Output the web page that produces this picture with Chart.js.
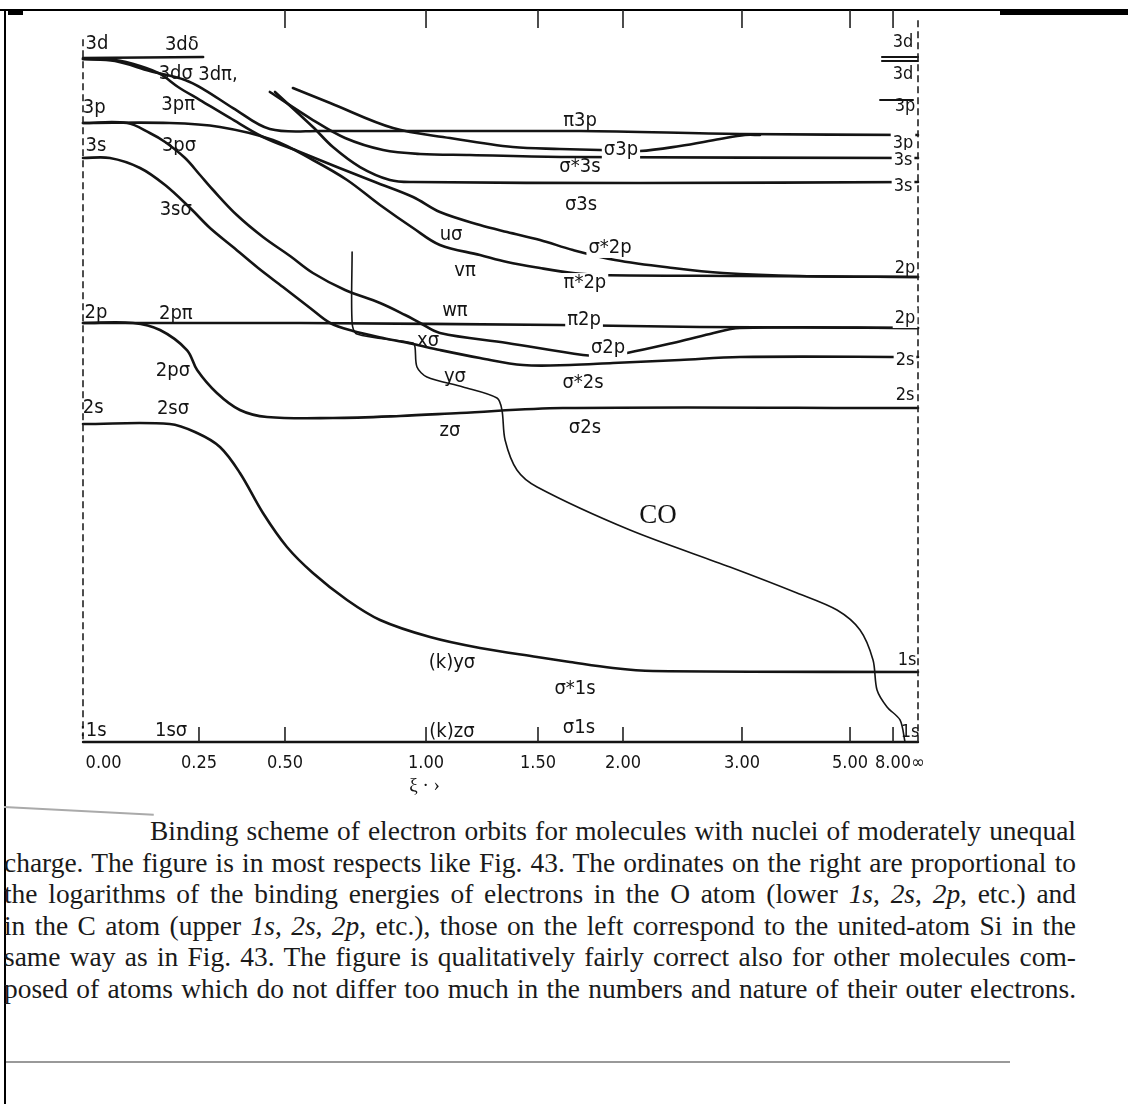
<!DOCTYPE html>
<html><head><meta charset="utf-8">
<script src="https://cdn.jsdelivr.net/npm/chart.js@4/dist/chart.umd.min.js"></script>
<style>
html,body{margin:0;padding:0;background:#fff;}
body{width:1128px;height:1104px;position:relative;overflow:hidden;}
#wrap{position:absolute;left:0;top:0;width:1128px;height:800px;}
.rule{position:absolute;}
#caption{position:absolute;left:4px;top:816px;width:1072px;font-family:"Liberation Serif","DejaVu Serif",serif;font-size:22px;color:#1a1a1a;}
#caption div{height:31.6px;line-height:31.6px;overflow:hidden;text-align:justify;text-align-last:justify;white-space:nowrap;}
</style></head>
<body>
<div class="rule" style="left:0;top:9px;width:1128px;height:2px;background:#000"></div>
<div class="rule" style="left:1000px;top:9px;width:128px;height:6px;background:#000"></div>
<div class="rule" style="left:8px;top:11px;width:15px;height:4px;background:#000"></div>
<div class="rule" style="left:4px;top:9px;width:2px;height:1095px;background:#000"></div>
<div id="wrap"><canvas id="c" width="1128" height="800"></canvas></div>
<div class="rule" style="left:4px;top:806px;width:150px;height:2px;background:#aaa;transform:rotate(3deg);transform-origin:0 0"></div>
<div id="caption">
<div style="padding-left:146px"><span>Binding scheme of electron orbits for molecules with nuclei of moderately unequal</span></div>
<div><span>charge. The figure is in most respects like Fig. 43. The ordinates on the right are proportional to</span></div>
<div><span>the logarithms of the binding energies of electrons in the O atom (lower <i>1s</i>, <i>2s</i>, <i>2p</i>, etc.) and</span></div>
<div><span>in the C atom (upper <i>1s</i>, <i>2s</i>, <i>2p</i>, etc.), those on the left correspond to the united-atom Si in the</span></div>
<div><span>same way as in Fig. 43. The figure is qualitatively fairly correct also for other molecules com-</span></div>
<div><span>posed of atoms which do not differ too much in the numbers and nature of their outer electrons.</span></div>
</div>
<div class="rule" style="left:6px;top:1061px;width:1004px;height:2px;background:#999"></div>
<script>
// ---------- axis ----------
const XI_INF = 1e6; // stands for xi = infinity (separated atoms)
const XI_TICKS = [0, 0.25, 0.5, 1, 1.5, 2, 3, 5, 8, XI_INF];
const XI_TICK_LABELS = ['\u2007\u2007\u2007\u20070.00', '0.25', '0.50', '1.00', '1.50', '2.00', '3.00', '5.00', '8.00', '∞'];

// ---------- correlation curves: [xi, relative level] ----------
const delta3d = [[0, 93.44], [0.262, 93.58]];
const sigma3d_u_sigmaStar2p = [[0, 93.31], [0.069, 93.17], [0.123, 92.35], [0.166, 91.26], [0.205, 89.48], [0.253, 87.70], [0.340, 85.25], [0.436, 82.65], [0.553, 80.60], [0.684, 78.55], [0.819, 76.50], [0.954, 74.45], [1.062, 72.40], [1.241, 70.63], [1.362, 69.67], [1.512, 68.58], [1.706, 67.21], [1.953, 65.85], [2.420, 64.75], [2.840, 64.07], [4.074, 63.66], [XI_INF, 63.52]];
const pi3d_pi3p = [[0, 93.31], [0.069, 93.03], [0.144, 91.67], [0.220, 90.44], [0.267, 89.07], [0.349, 86.61], [0.456, 83.74], [0.624, 83.47], [1.747, 83.47], [2.983, 83.06], [XI_INF, 82.92]];
const pi3p_v_piStar2p = [[0, 84.56], [0.187, 84.56], [0.311, 84.02], [0.465, 82.24], [0.599, 79.51], [0.720, 76.78], [0.837, 73.36], [0.954, 70.22], [1.062, 67.90], [1.241, 66.53], [1.362, 65.57], [1.512, 64.75], [1.706, 64.07], [1.865, 63.80], [2.983, 63.66], [XI_INF, 63.52]];
const sigma3p_x_sigma2p = [[0, 84.56], [0.095, 84.56], [0.144, 83.20], [0.177, 81.97], [0.220, 79.78], [0.253, 77.46], [0.291, 75.41], [0.360, 71.99], [0.436, 68.99], [0.518, 66.39], [0.599, 64.07], [0.713, 61.75], [0.837, 59.97], [0.926, 58.33], [0.979, 57.24], [1.062, 55.87], [1.362, 54.51], [1.765, 52.87], [1.894, 52.73], [2.034, 53.14], [2.420, 54.51], [2.731, 55.74], [2.983, 56.56], [XI_INF, 56.56]];
const sigma3s_y_sigmaStar2s = [[0, 79.78], [0.058, 79.78], [0.123, 78.42], [0.177, 76.09], [0.231, 72.95], [0.282, 70.22], [0.349, 67.62], [0.422, 64.75], [0.494, 62.16], [0.589, 59.29], [0.660, 57.24], [0.741, 56.15], [0.848, 55.19], [0.954, 54.37], [1.062, 53.55], [1.241, 52.46], [1.433, 51.50], [1.688, 51.50], [1.941, 51.78], [2.479, 52.19], [2.983, 52.60], [XI_INF, 52.60]];
const pi2p_w_pi2p = [[0, 57.24], [0.553, 57.24], [1.629, 56.97], [2.647, 56.69], [XI_INF, 56.56]];
const sigma2p_z_sigma2s = [[0, 57.24], [0.108, 57.24], [0.166, 56.28], [0.224, 53.55], [0.246, 50.82], [0.302, 47.68], [0.369, 45.36], [0.448, 44.40], [0.670, 44.26], [0.908, 44.54], [1.152, 44.95], [1.647, 45.63], [XI_INF, 45.63]];
const sigma2s_ky_sigmaStar1s = [[0, 43.44], [0.187, 43.44], [0.246, 42.21], [0.311, 40.30], [0.369, 36.75], [0.436, 31.28], [0.507, 26.64], [0.599, 23.09], [0.720, 19.40], [0.837, 16.67], [1.018, 14.34], [1.241, 12.84], [1.496, 11.61], [1.688, 10.93], [1.941, 10.11], [2.252, 9.70], [XI_INF, 9.56]];
const sigma1s_kz_sigma1s = [[0, 0], [XI_INF, 0]];
const sigma3p_right = [[0.528, 89.34], [0.660, 87.30], [0.883, 83.88], [1.107, 82.51], [1.388, 81.28], [1.629, 81.01], [1.865, 80.87], [2.143, 80.74], [2.479, 81.42], [2.815, 82.38], [3.056, 82.92], [3.333, 82.92]];
const sigmaStar3s_right = [[0.456, 88.80], [0.599, 84.97], [0.713, 82.51], [0.848, 80.87], [0.979, 80.33], [1.196, 80.19], [1.671, 79.92], [XI_INF, 79.78]];
const sigma3s_right = [[0.471, 88.80], [0.599, 84.02], [0.670, 81.28], [0.766, 78.55], [0.872, 76.78], [0.954, 76.50], [2.143, 76.37], [XI_INF, 76.50]];
const levelC3d = [[7.233, 93.58], [XI_INF, 93.58]];
const levelO3d = [[7.233, 93.03], [XI_INF, 93.03]];
const levelC3p = [[7.093, 87.70], [40, 87.70]];
// locus of the CO molecule through the diagram
const coLocus = [[0.738, 66.94], [0.738, 57.24], [0.755, 55.74], [0.954, 54.51], [0.961, 53.96], [0.968, 51.23], [1.004, 49.86], [1.165, 48.50], [1.317, 46.99], [1.339, 45.36], [1.353, 41.26], [1.406, 37.16], [1.496, 34.84], [2.059, 28.96], [2.899, 23.91], [4.019, 20.36], [4.759, 18.03], [5.698, 15.30], [6.605, 11.20], [6.884, 7.10], [7.581, 4.78], [11.11, 3.01], [15.38, 0]];

// ---------- annotations [text, xi, level] ----------
const LEFT_LABELS = [['3d', 0.030, 95.36], ['3dδ', 0.213, 95.22], ['3dσ', 0.200, 91.26], ['3dπ,', 0.305, 91.12], ['3p', 0.024, 86.61], ['3pπ', 0.205, 87.02], ['3s', 0.028, 81.42], ['3pσ', 0.207, 81.42], ['3sσ', 0.200, 72.68], ['2p', 0.028, 58.61], ['2pπ', 0.200, 58.47], ['2pσ', 0.194, 50.68], ['2s', 0.022, 45.63], ['2sσ', 0.194, 45.49], [':1s', 0.022, 1.50], ['1sσ', 0.190, 1.50]];
const MID_LABELS = [['uσ', 1.112, 69.26], ['vπ', 1.174, 64.34], ['wπ', 1.129, 58.88], ['xσ', 1.009, 54.78], ['yσ', 1.129, 49.86], ['zσ', 1.107, 42.49], ['(k)yσ', 1.116, 10.79], ['(k)zσ', 1.116, 1.37]];
const MO_LABELS = [['π3p', 1.747, 84.84, 0], ['σ3p', 1.988, 80.87, 1], ['σ*3s', 1.747, 78.55, 0], ['σ3s', 1.753, 73.36, 0], ['σ*2p', 1.924, 67.49, 1], ['π*2p', 1.776, 62.70, 1], ['π2p', 1.771, 57.65, 1], ['σ2p', 1.912, 53.83, 1], ['σ*2s', 1.765, 49.04, 0], ['σ2s', 1.776, 42.90, 0], ['σ*1s', 1.718, 7.24, 0], ['σ1s', 1.741, 1.91, 0]];
const RIGHT_LABELS = [['3d', 13.33, 95.63, 0], ['3d', 13.33, 91.26, 0], ['3p', 15.38, 86.89, 0], ['3p', 13.33, 81.83, 1], ['3s', 13.33, 79.51, 1], ['3s', 13.33, 75.96, 1], ['2p', 15.38, 64.75, 0], ['2p', 15.38, 57.92, 1], ['2s', 15.38, 52.19, 1], ['2s', 15.38, 47.40, 0], ['1s', 18.18, 11.20, 0], ['1s', 25, 1.37, 0]];
const CO_LABEL = ['CO', 2.294, 30.87];
const AXIS_TITLE = ['ξ · ›', 0.995, -6.0];

// ---------- custom non-uniform xi scale ----------
const AXIS_FRAC = [0, 0.1389, 0.2419, 0.4108, 0.5449, 0.6467, 0.7892, 0.9186, 0.9701, 1];
function xiToFrac(v) {
  if (v <= 0) return 0;
  const last = XI_TICKS.length - 2;
  if (v >= XI_TICKS[last]) {
    return AXIS_FRAC[last] + (AXIS_FRAC[last + 1] - AXIS_FRAC[last]) * (1 - XI_TICKS[last] / v);
  }
  for (let i = 0; i < last; i++) {
    if (v <= XI_TICKS[i + 1]) {
      const t = (v - XI_TICKS[i]) / (XI_TICKS[i + 1] - XI_TICKS[i]);
      return AXIS_FRAC[i] + t * (AXIS_FRAC[i + 1] - AXIS_FRAC[i]);
    }
  }
  return 1;
}
function fracToXi(f) {
  const last = XI_TICKS.length - 2;
  if (f <= 0) return 0;
  if (f >= AXIS_FRAC[last]) {
    const u = Math.min(0.999999, (f - AXIS_FRAC[last]) / (AXIS_FRAC[last + 1] - AXIS_FRAC[last]));
    return XI_TICKS[last] / (1 - u);
  }
  for (let i = 0; i < last; i++) {
    if (f <= AXIS_FRAC[i + 1]) {
      const t = (f - AXIS_FRAC[i]) / (AXIS_FRAC[i + 1] - AXIS_FRAC[i]);
      return XI_TICKS[i] + t * (XI_TICKS[i + 1] - XI_TICKS[i]);
    }
  }
  return XI_INF;
}
class PiecewiseScale extends Chart.LinearScale {
  getPixelForValue(v) { return this.left + xiToFrac(v) * this.width; }
  getValueForPixel(p) { return fracToXi((p - this.left) / this.width); }
  buildTicks() { return XI_TICKS.map(v => ({ value: v })); }
}
PiecewiseScale.id = 'piecewise';
PiecewiseScale.defaults = {};
Chart.register(PiecewiseScale);

// ---------- build datasets ----------
const INK = '#141414';
const toPts = arr => arr.map(([x, y]) => ({ x, y }));
function ds(label, arr, width, tension) {
  return { label, data: toPts(arr), borderColor: INK, borderWidth: width, pointRadius: 0, tension: tension, fill: false, clip: false, borderCapStyle: 'round', borderJoinStyle: 'round' };
}
const datasets = [
  ds('3dδ', delta3d, 2.6, 0),
  ds('3dσ – uσ – σ*2p', sigma3d_u_sigmaStar2p, 2.6, 0.35),
  ds('3dπ – π3p', pi3d_pi3p, 2.6, 0.35),
  ds('3pπ – vπ – π*2p', pi3p_v_piStar2p, 2.6, 0.35),
  ds('3pσ – xσ – σ2p', sigma3p_x_sigma2p, 2.6, 0.35),
  ds('3sσ – yσ – σ*2s', sigma3s_y_sigmaStar2s, 2.6, 0.35),
  ds('2pπ – wπ – π2p', pi2p_w_pi2p, 2.6, 0.2),
  ds('2pσ – zσ – σ2s', sigma2p_z_sigma2s, 2.6, 0.35),
  ds('2sσ – (k)yσ – σ*1s', sigma2s_ky_sigmaStar1s, 2.6, 0.35),
  ds('1sσ – (k)zσ – σ1s', sigma1s_kz_sigma1s, 2.4, 0),
  ds('σ3p', sigma3p_right, 2.6, 0.35),
  ds('σ*3s', sigmaStar3s_right, 2.6, 0.35),
  ds('σ3s', sigma3s_right, 2.6, 0.35),
  ds('C 3d', levelC3d, 2.2, 0),
  ds('O 3d', levelO3d, 2.2, 0),
  ds('C 3p', levelC3p, 2.0, 0),
  ds('CO', coLocus, 1.6, 0.3)
];

const LBL_FONT = '"Liberation Sans Narrow","DejaVu Sans Condensed","Arial Narrow",sans-serif';
function drawLabel(ctx, xs, ys, t, xi, lev, bg, font) {
  const px = xs.getPixelForValue(xi), py = ys.getPixelForValue(lev);
  ctx.font = font;
  ctx.textAlign = 'center';
  ctx.textBaseline = 'middle';
  if (bg) {
    const w = ctx.measureText(t).width;
    ctx.fillStyle = '#fff';
    ctx.fillRect(px - w / 2 - 2, py - 10, w + 4, 20);
  }
  ctx.fillStyle = INK;
  ctx.fillText(t, px, py);
}

const decor = {
  id: 'decor',
  afterDatasetsDraw(chart) {
    const { ctx, scales: { x, y } } = chart;
    ctx.save();
    ctx.strokeStyle = '#222';
    ctx.lineWidth = 1.6;
    ctx.setLineDash([7, 4]);
    const x0 = x.getPixelForValue(0), xr = x.getPixelForValue(XI_INF);
    ctx.beginPath();
    ctx.moveTo(x0, y.getPixelForValue(96)); ctx.lineTo(x0, y.getPixelForValue(0));
    ctx.moveTo(xr, y.getPixelForValue(98.6)); ctx.lineTo(xr, y.getPixelForValue(0));
    ctx.stroke();
    ctx.setLineDash([]);
    ctx.lineWidth = 1.6;
    ctx.beginPath();
    const yb = y.getPixelForValue(0), yt = y.getPixelForValue(100);
    XI_TICKS.forEach((v, i) => {
      if (i === 0 || i === XI_TICKS.length - 1) return;
      const px = x.getPixelForValue(v);
      ctx.moveTo(px, yb); ctx.lineTo(px, yb - 15);
      if (i >= 2) { ctx.moveTo(px, yt); ctx.lineTo(px, yt + 18); }
    });
    ctx.stroke();
    const f = '20px ' + LBL_FONT;
    LEFT_LABELS.forEach(([t, xi, lev]) => drawLabel(ctx, x, y, t, xi, lev, false, f));
    MID_LABELS.forEach(([t, xi, lev]) => drawLabel(ctx, x, y, t, xi, lev, false, f));
    MO_LABELS.forEach(([t, xi, lev, bg]) => drawLabel(ctx, x, y, t, xi, lev, bg, f));
    RIGHT_LABELS.forEach(([t, xi, lev, bg]) => drawLabel(ctx, x, y, t, xi, lev, bg, '18px ' + LBL_FONT));
    drawLabel(ctx, x, y, CO_LABEL[0], CO_LABEL[1], CO_LABEL[2], false, '27px "Liberation Serif","DejaVu Serif",serif');
    drawLabel(ctx, x, y, AXIS_TITLE[0], AXIS_TITLE[1], AXIS_TITLE[2], false, '19px "Liberation Serif","DejaVu Serif",serif');
    ctx.restore();
  }
};

new Chart(document.getElementById('c'), {
  type: 'line',
  data: { datasets },
  plugins: [decor],
  options: {
    responsive: false,
    animation: false,
    events: [],
    devicePixelRatio: 1,
    layout: { padding: { left: 83, right: 210, top: 10, bottom: 0 } },
    plugins: { legend: { display: false }, tooltip: { enabled: false } },
    scales: {
      x: {
        type: 'piecewise', min: 0, max: XI_INF,
        grid: { display: false, drawTicks: false },
        border: { display: false },
        ticks: { autoSkip: false, maxRotation: 0, padding: 11, color: INK, font: { family: LBL_FONT, size: 18 }, callback: (v, i) => XI_TICK_LABELS[i] },
        afterFit: s => { s.height = 58; }
      },
      y: { type: 'linear', min: 0, max: 100, display: false }
    }
  }
});

// ---------- fit caption: one common font size, each line justified ----------
(function fitCaption() {
  const lines = Array.from(document.querySelectorAll('#caption div'));
  let size = 40;
  lines.forEach(d => {
    const sp = d.querySelector('span');
    sp.style.display = 'inline-block';
    d.style.fontSize = '20px';
    const natural = sp.getBoundingClientRect().width;
    const target = d.clientWidth - parseFloat(getComputedStyle(d).paddingLeft);
    size = Math.min(size, 20 * target * 0.985 / natural);
  });
  lines.forEach(d => {
    d.querySelector('span').style.display = 'inline';
    d.style.fontSize = size.toFixed(2) + 'px';
    d.style.whiteSpace = 'normal';
  });
})();
</script>
</body></html>
